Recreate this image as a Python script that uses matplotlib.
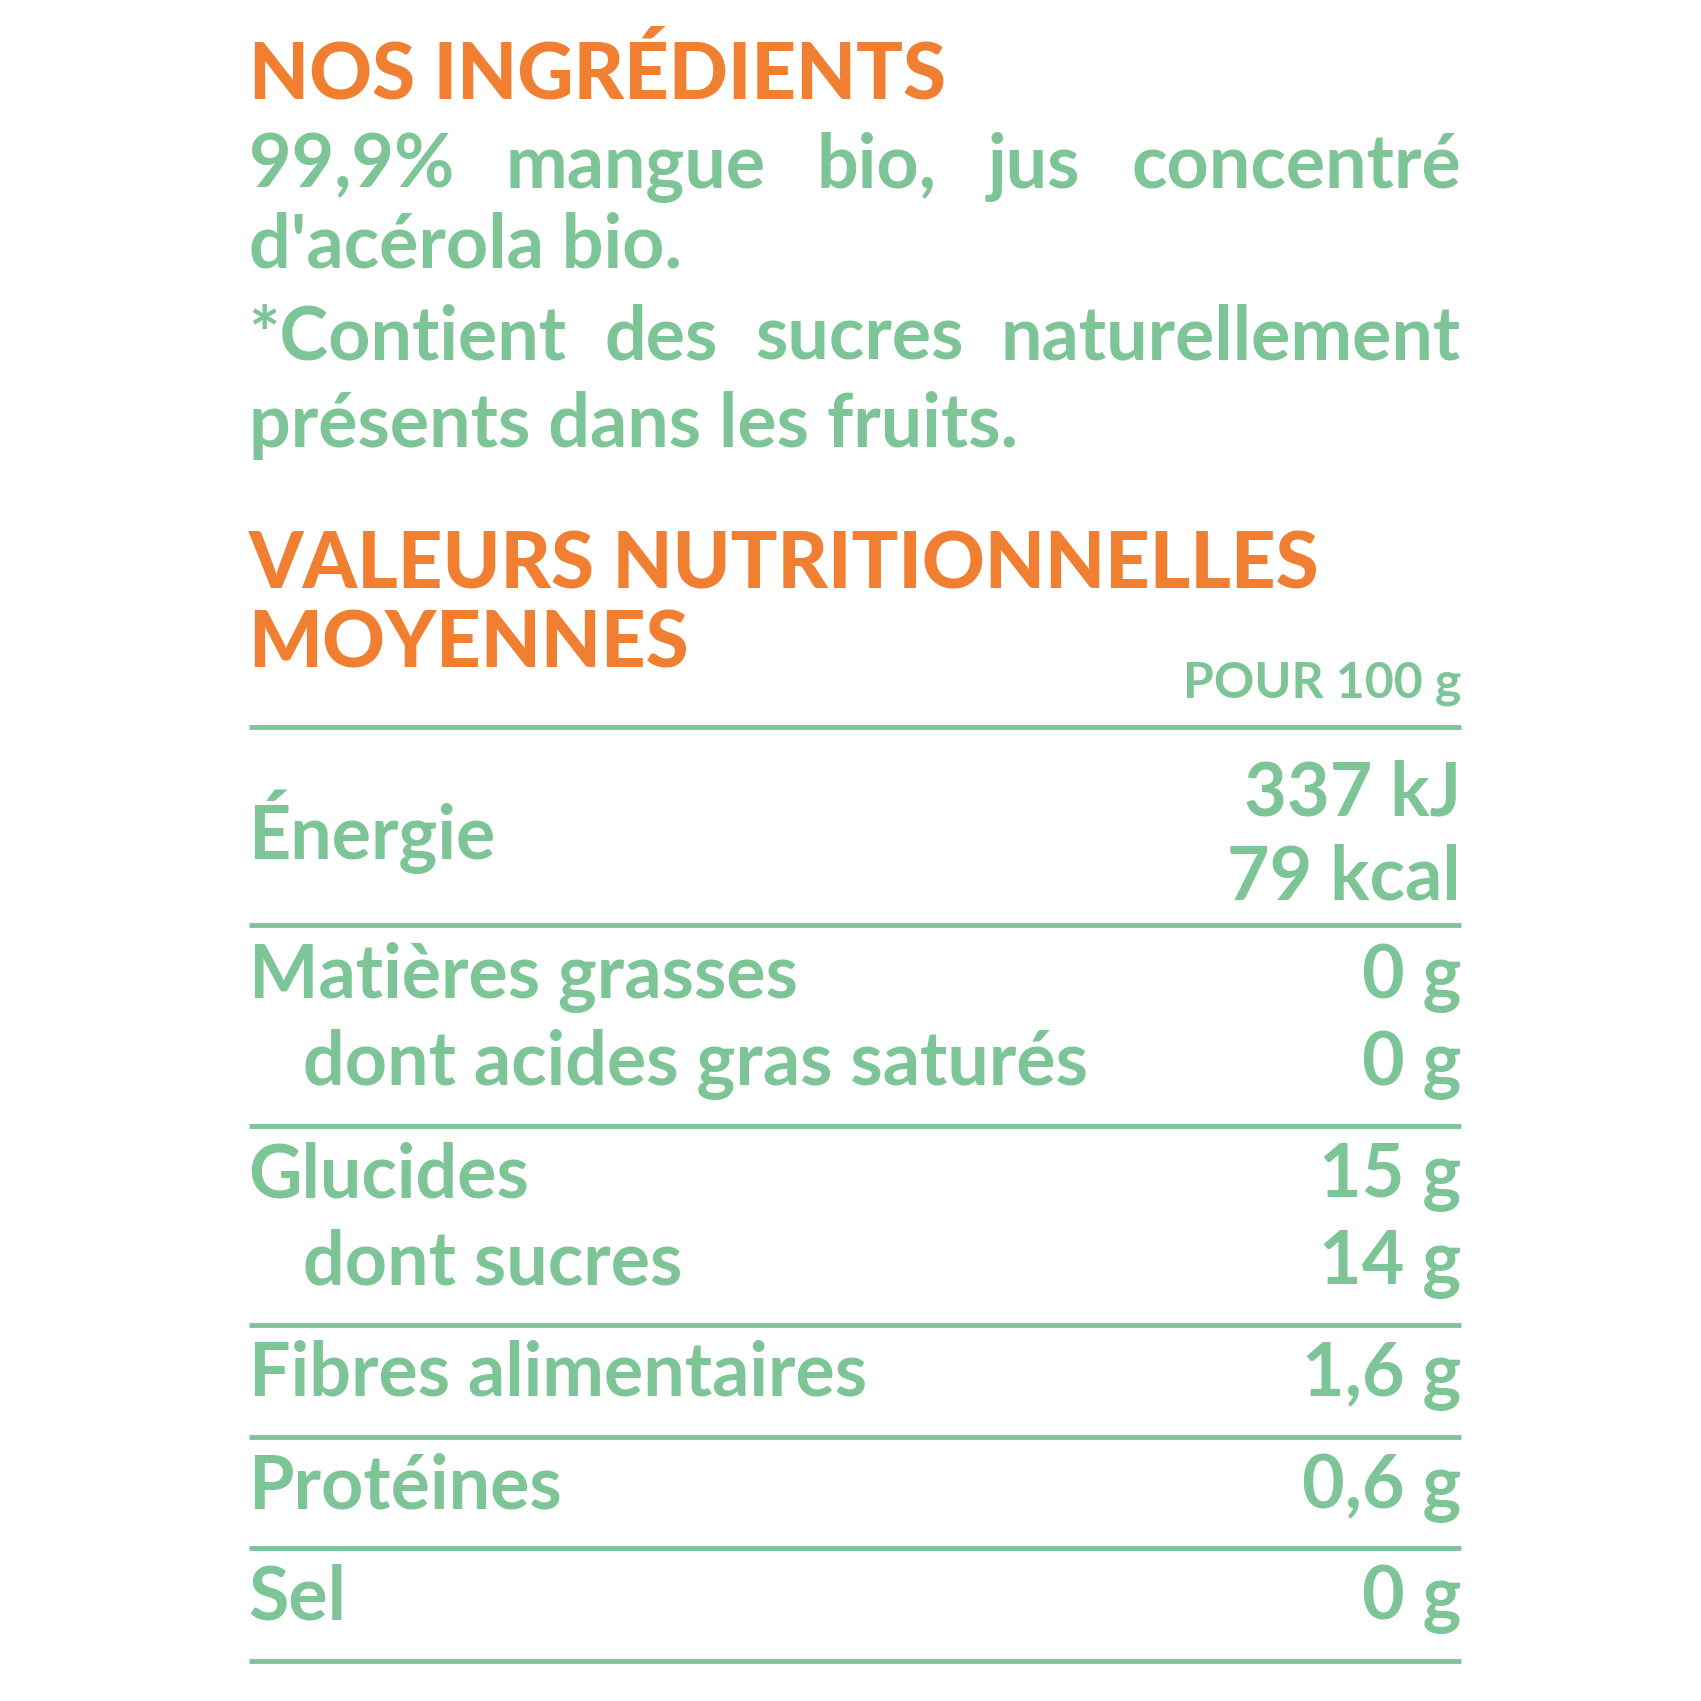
import matplotlib.pyplot as plt

ORANGE = '#F07F32'
GREEN = '#7DC497'

title1 = 'NOS INGRÉDIENTS'
ingr_lines = [('99,9% mangue bio, jus concentré', True),
              ("d'acérola bio.", False),
              ('*Contient des sucres naturellement', True),
              ('présents dans les fruits.', False)]
title2 = ['VALEURS NUTRITIONNELLES', 'MOYENNES']
per = 'POUR 100 g'

labels = ['Énergie', 'Matières grasses', 'dont acides gras saturés', 'Glucides',
          'dont sucres', 'Fibres alimentaires', 'Protéines', 'Sel']
values = ['337 kJ\n79 kcal', '0 g', '0 g', '15 g', '14 g', '1,6 g', '0,6 g', '0 g']
indent = [False, False, True, False, True, False, False, False]
label_y = [788, 915, 995, 1098, 1178, 1280, 1383, 1485]
rules_y = [667, 848, 1033, 1215, 1318, 1420, 1523]

W = 1560
L, R = 228, 1340

fig = plt.figure(figsize=(17.01, 17.01), dpi=100)
ax = fig.add_axes([0, 0, 1, 1])
ax.set_xlim(0, W)
ax.set_ylim(W, 0)
ax.axis('off')

FS = 53
bold = dict(family=['Lato', 'DejaVu Sans'], weight='bold', color=GREEN, fontsize=FS)
heavy = dict(family=['Lato', 'DejaVu Sans'], weight='black', color=ORANGE, fontsize=56)

ax.text(L, 90, title1, va='baseline', **heavy)
ax.text(L, 540, title2[0], va='baseline', **heavy)
ax.text(L, 612, title2[1], va='baseline', **heavy)

fig.canvas.draw()
rend = fig.canvas.get_renderer()
inv = ax.transData.inverted()

def width(t):
    bb = t.get_window_extent(rend)
    p0 = inv.transform((bb.x0, 0))[0]
    p1 = inv.transform((bb.x1, 0))[0]
    return p1 - p0

ys = [172, 245, 330, 410]
for (line, just), y in zip(ingr_lines, ys):
    if not just:
        ax.text(L, y, line, va='baseline', **bold)
        continue
    words = line.split()
    ts = [ax.text(0, y, w, va='baseline', **bold) for w in words]
    ws = [width(t) for t in ts]
    gap = (R - L - sum(ws)) / (len(words) - 1)
    x = L
    for t, w in zip(ts, ws):
        t.set_x(x)
        x += w + gap

ax.text(R, 640, per, ha='right', va='baseline', family=['Lato', 'DejaVu Sans'],
        weight='bold', color=GREEN, fontsize=36)

for y in rules_y:
    ax.plot([L, R], [y, y], color=GREEN, lw=3.5, solid_capstyle='butt')

for lab, val, ind, y in zip(labels, values, indent, label_y):
    ax.text(L + (50 if ind else 0), y, lab, va='baseline', **bold)
    if '\n' in val:
        v1, v2 = val.split('\n')
        ax.text(R, 748, v1, ha='right', va='baseline', **bold)
        ax.text(R, 825, v2, ha='right', va='baseline', **bold)
    else:
        ax.text(R, y, val, ha='right', va='baseline', **bold)

fig.savefig('out.png', dpi=100, facecolor='white')
